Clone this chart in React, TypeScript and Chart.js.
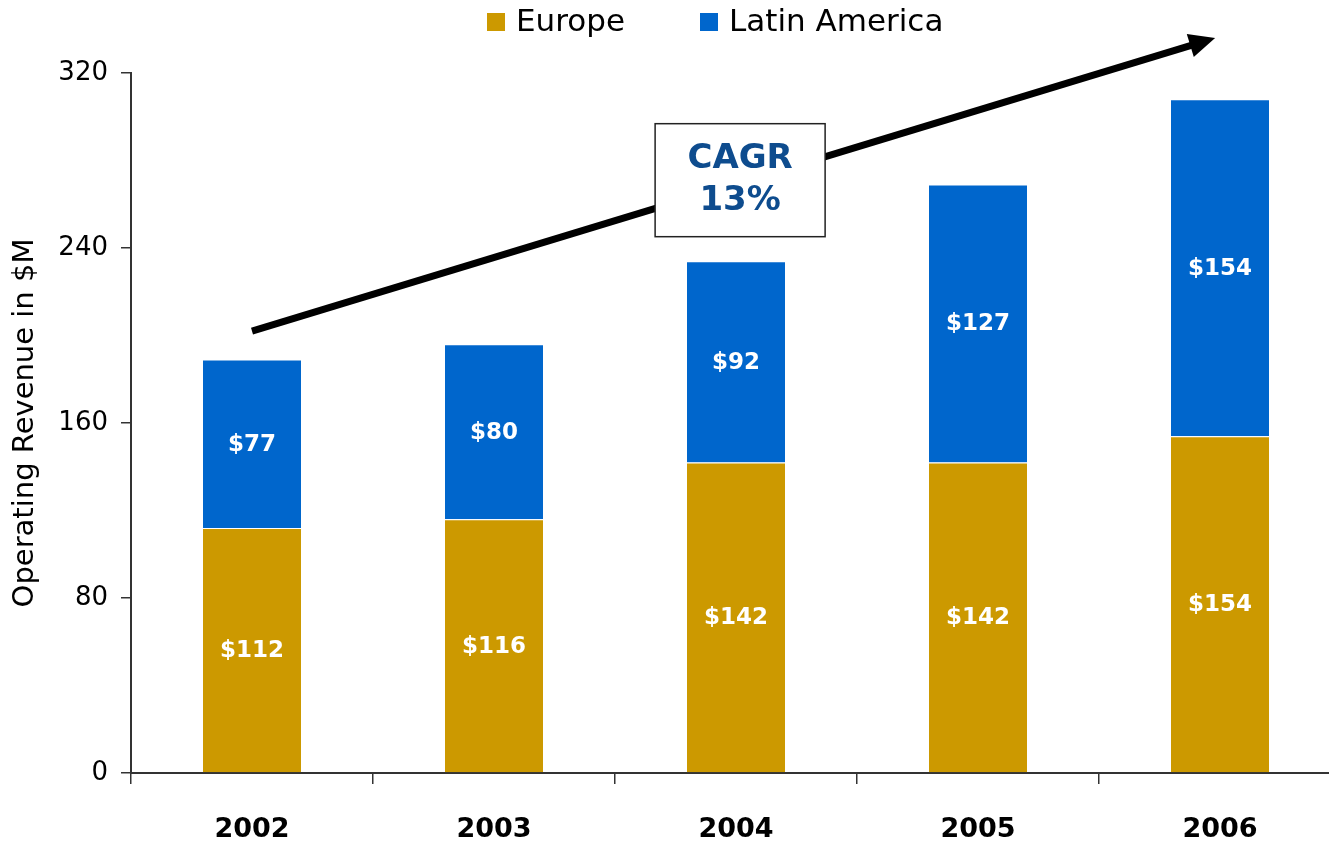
import React, { useEffect, useRef } from "react";
import { Chart, registerables } from "chart.js";

Chart.register(...registerables);

const categories = ["2002", "2003", "2004", "2005", "2006"];
const europe = [112, 116, 142, 142, 154];
const latinAmerica = [77, 80, 92, 127, 154];
const seriesNames = ["Europe", "Latin America"];
const seriesColors = ["#CC9900", "#0066CC"];
const yTicks = [0, 80, 160, 240, 320];
const yTitle = "Operating Revenue in $M";
const arrowFrom = { x: 0, y: 202 };
const arrowTo = { x: 3.98, y: 336 };
const cagrLines = ["CAGR", "13%"];
const cagrAt = { x: 2.017, y: 271 };

const FONT = "'DejaVu Sans', 'Open Sans', sans-serif";

function xPix(scale: any, v: number) {
  const step = scale.getPixelForValue(1) - scale.getPixelForValue(0);
  return scale.getPixelForValue(0) + v * step;
}

const overlayPlugin = {
  id: "overlay",
  afterDatasetsDraw(chart: any) {
    const ctx = chart.ctx;
    ctx.save();
    ctx.fillStyle = "#FFFFFF";
    ctx.font = `bold 23px ${FONT}`;
    ctx.textAlign = "center";
    ctx.textBaseline = "middle";
    chart.data.datasets.forEach((ds: any, di: number) => {
      const meta = chart.getDatasetMeta(di);
      meta.data.forEach((bar: any, i: number) => {
        const cy = (bar.y + bar.base) / 2;
        ctx.fillText("$" + ds.data[i], bar.x, cy + 1);
      });
    });
    ctx.restore();
  },
  afterDraw(chart: any) {
    const ctx = chart.ctx;
    const xs = chart.scales.x;
    const ys = chart.scales.y;
    // arrow
    const x1 = xPix(xs, arrowFrom.x);
    const y1 = ys.getPixelForValue(arrowFrom.y);
    const x2 = xPix(xs, arrowTo.x);
    const y2 = ys.getPixelForValue(arrowTo.y);
    const ang = Math.atan2(y2 - y1, x2 - x1);
    const headLen = 26;
    const headW = 12;
    ctx.save();
    ctx.strokeStyle = "#000";
    ctx.fillStyle = "#000";
    ctx.lineWidth = 7;
    ctx.beginPath();
    ctx.moveTo(x1, y1);
    ctx.lineTo(x2 - Math.cos(ang) * headLen * 0.8, y2 - Math.sin(ang) * headLen * 0.8);
    ctx.stroke();
    ctx.beginPath();
    ctx.moveTo(x2, y2);
    const bx = x2 - Math.cos(ang) * headLen;
    const by = y2 - Math.sin(ang) * headLen;
    ctx.lineTo(bx + Math.sin(ang) * headW, by - Math.cos(ang) * headW);
    ctx.lineTo(bx - Math.sin(ang) * headW, by + Math.cos(ang) * headW);
    ctx.closePath();
    ctx.fill();
    // CAGR box
    const cx = xPix(xs, cagrAt.x);
    const cy = ys.getPixelForValue(cagrAt.y);
    const bw = 170, bh = 113;
    ctx.fillStyle = "#FFFFFF";
    ctx.fillRect(cx - bw / 2, cy - bh / 2, bw, bh);
    ctx.lineWidth = 1.5;
    ctx.strokeStyle = "#222";
    ctx.strokeRect(cx - bw / 2, cy - bh / 2, bw, bh);
    ctx.fillStyle = "#0E4C8E";
    ctx.font = `bold 34px ${FONT}`;
    ctx.textAlign = "center";
    ctx.textBaseline = "middle";
    ctx.fillText(cagrLines[0], cx, cy - 21);
    ctx.fillText(cagrLines[1], cx, cy + 21);
    // legend
    ctx.font = `31px ${FONT}`;
    ctx.textBaseline = "middle";
    ctx.textAlign = "left";
    const legendX = [487, 700];
    const legendY = 22;
    seriesNames.forEach((name, i) => {
      ctx.fillStyle = seriesColors[i];
      ctx.fillRect(legendX[i], legendY - 9, 18, 18);
      ctx.fillStyle = "#000";
      ctx.fillText(name, legendX[i] + 29, legendY + 1);
    });
    ctx.restore();
  },
};

export default function App() {
  const ref = useRef<HTMLCanvasElement>(null);
  useEffect(() => {
    if (!ref.current) return;
    const chart = new Chart(ref.current, {
      type: "bar",
      data: {
        labels: categories,
        datasets: [
          {
            label: seriesNames[0],
            data: europe,
            backgroundColor: seriesColors[0],
            borderColor: "#FFFFFF",
            borderWidth: { top: 1, left: 0, right: 0, bottom: 0 },
            categoryPercentage: 1,
            barPercentage: 0.405,
          },
          {
            label: seriesNames[1],
            data: latinAmerica,
            backgroundColor: seriesColors[1],
            borderColor: "#FFFFFF",
            borderWidth: { top: 1, left: 0, right: 0, bottom: 1 },
            categoryPercentage: 1,
            barPercentage: 0.405,
          },
        ],
      },
      options: {
        animation: false,
        responsive: true,
        maintainAspectRatio: false,
        layout: { padding: { top: 73, right: 0, left: 0, bottom: 0 } },
        plugins: {
          legend: { display: false },
          tooltip: { enabled: false },
        },
        scales: {
          x: {
            stacked: true,
            grid: {
              display: true,
              drawOnChartArea: false,
              offset: true,
              tickLength: 11,
              color: "#333",
              lineWidth: 1.5,
            },
            border: { display: true, color: "#333", width: 2 },
            ticks: {
              color: "#000",
              font: { family: FONT, size: 27, weight: "bold" },
              padding: 30,
            },
            afterFit: (s: any) => {
              s.height = 69;
            },
          },
          y: {
            stacked: true,
            min: 0,
            max: 320,
            afterBuildTicks: (s: any) => {
              s.ticks = yTicks.map((v) => ({ value: v }));
            },
            grid: {
              display: true,
              drawOnChartArea: false,
              tickLength: 10,
              color: "#333",
              lineWidth: 1.5,
            },
            border: { display: true, color: "#333", width: 2 },
            ticks: {
              color: "#000",
              font: { family: FONT, size: 26, weight: "normal" },
              padding: 13,
            },
            title: {
              display: true,
              text: yTitle,
              color: "#000",
              font: { family: FONT, size: 29, weight: "normal" },
              padding: { top: 8, bottom: 0 },
            },
            afterFit: (s: any) => {
              s.width = 131;
            },
          },
        },
      },
      plugins: [overlayPlugin],
    });
    return () => chart.destroy();
  }, []);
  return (
    <div style={{ position: "fixed", left: 0, top: 0, width: 1329, height: 842, background: "#fff", overflow: "hidden" }}>
      <div style={{ position: "absolute", left: 0, top: 0, width: 1341, height: 842 }}>
        <canvas ref={ref} />
      </div>
    </div>
  );
}
